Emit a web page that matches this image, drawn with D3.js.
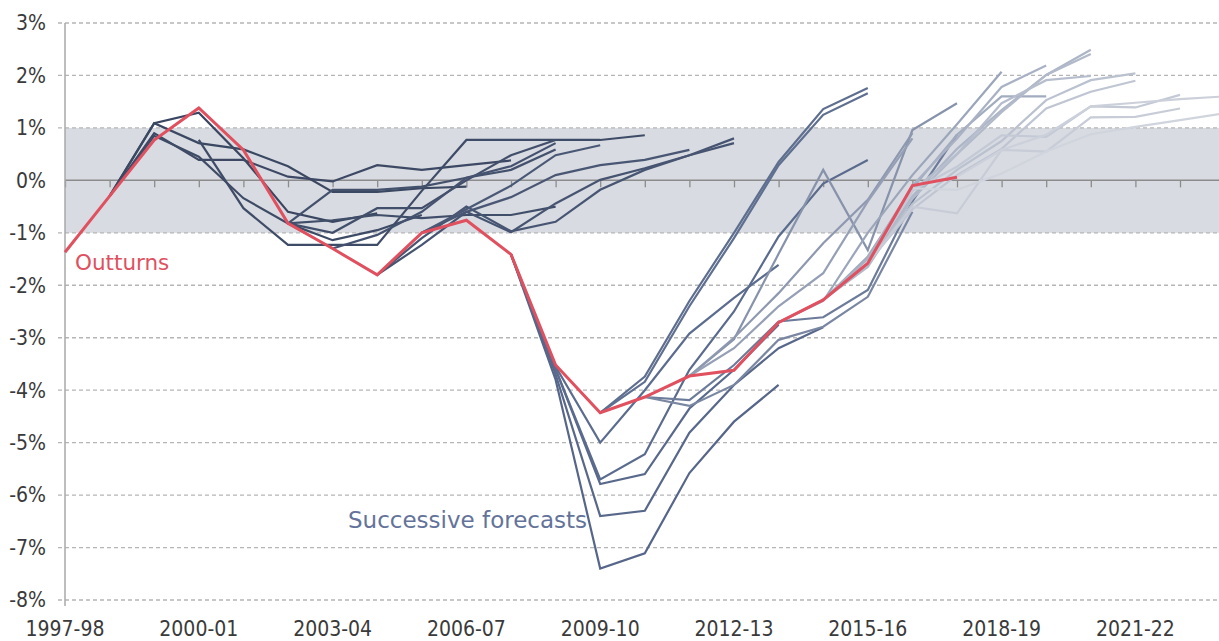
<!DOCTYPE html>
<html>
  <head>
    <meta charset="UTF-8">
    <script src="https://d3js.org/d3.v7.min.js"></script>
    <style>
      body { margin: 0; background: #fff; }
      text { font-family: "DejaVu Sans Condensed", "DejaVu Sans", sans-serif; }
      text.note { font-family: "DejaVu Sans", sans-serif; }
    </style>
  </head>
  <body>
    <svg class="chart"></svg>
    <script type="text/javascript">

      var width = 1219,
          height = 641;

      var years = ["1997-98", "1998-99", "1999-00", "2000-01", "2001-02", "2002-03", "2003-04",
                   "2004-05", "2005-06", "2006-07", "2007-08", "2008-09", "2009-10", "2010-11",
                   "2011-12", "2012-13", "2013-14", "2014-15", "2015-16", "2016-17", "2017-18",
                   "2018-19", "2019-20", "2020-21", "2021-22", "2022-23", "2023-24"];

      var yearLabels = ["1997-98", "2000-01", "2003-04", "2006-07", "2009-10",
                        "2012-13", "2015-16", "2018-19", "2021-22"];

      var yTicks = [-8, -7, -6, -5, -4, -3, -2, -1, 0, 1, 2, 3];

      // outturns, 1997-98 to 2017-18
      var outturns = [-1.37, -0.3, 0.77, 1.38, 0.58, -0.82, -1.3, -1.8, -1.0, -0.76, -1.41,
                      -3.52, -4.43, -4.13, -3.73, -3.62, -2.71, -2.28, -1.58, -0.1, 0.06];

      // successive forecasts: [first year, values], oldest first
      var forecasts = [
        ["1998-99", [-0.3, 1.09, 1.29, 0.42, -0.6, -0.79, -0.63]],
        ["1998-99", [-0.3, 1.09, 0.71, 0.59, 0.27, -0.22, -0.22, -0.15, -0.12]],
        ["1998-99", [-0.3, 0.9, 0.39, 0.39, 0.07, -0.02, 0.29, 0.2, 0.29, 0.38]],
        ["1998-99", [-0.3, 0.85, 0.45, -0.34, -0.82, -1.14, -0.95, -0.66]],
        ["2000-01", [0.77, -0.53, -1.23, -1.23, -1.23, -0.2, 0.77, 0.77, 0.77, 0.77, 0.86]],
        ["2002-03", [-0.82, -0.76, -0.66, -0.72, -0.66, -0.66, -0.5]],
        ["2002-03", [-0.82, -1.0, -0.53, -0.53, 0.0, 0.48, 0.77]],
        ["2002-03", [-0.82, -0.18, -0.18, -0.12, 0.05, 0.2, 0.59]],
        ["2003-04", [-1.3, -1.04, -0.6, 0.05, 0.27, 0.71]],
        ["2004-05", [-1.8, -1.23, -0.6, -0.99, -0.44, 0.01, 0.23, 0.48, 0.71]],
        ["2004-05", [-1.8, -1.1, -0.5, -0.97, -0.79, -0.18, 0.2, 0.48, 0.8]],
        ["2005-06", [-1.0, -0.6, -0.32, 0.1, 0.29, 0.39, 0.58]],
        ["2005-06", [-1.0, -0.55, -0.1, 0.48, 0.67]],
        ["2007-08", [-1.41, -3.8, -7.4, -7.11, -5.58, -4.6, -3.9]],
        ["2007-08", [-1.41, -3.7, -6.4, -6.3, -4.81, -3.9, -3.2, -2.8]],
        ["2007-08", [-1.41, -3.6, -5.79, -5.6, -4.35, -3.61, -2.75]],
        ["2007-08", [-1.41, -3.6, -5.7, -5.22, -3.61, -2.5, -1.07, -0.06, 0.39]],
        ["2007-08", [-1.41, -3.55, -5.0, -4.0, -2.92, -2.24, -1.61]],
        ["2009-10", [-4.43, -3.74, -2.3, -1.0, 0.35, 1.36, 1.76]],
        ["2009-10", [-4.43, -3.84, -2.4, -1.1, 0.29, 1.25, 1.66]],
        ["2010-11", [-4.13, -4.19, -3.52, -2.69, -2.61, -2.09, -0.4, 0.87]],
        ["2010-11", [-4.13, -4.3, -3.9, -3.04, -2.79, -2.22, -0.6]],
        ["2011-12", [-3.73, -3.03, -1.4, 0.2, -1.33, 0.96, 1.47]],
        ["2011-12", [-3.73, -3.0, -2.15, -1.2, -0.37, 0.9]],
        ["2011-12", [-3.73, -3.2, -2.4, -1.77, -0.4, 0.8]],
        ["2013-14", [-2.71, -2.3, -1.0, 0.1, 1.07, 2.07]],
        ["2013-14", [-2.71, -2.28, -1.45, -0.15, 0.87, 1.6, 1.6]],
        ["2014-15", [-2.28, -1.5, -0.1, 0.8, 1.78, 2.19]],
        ["2014-15", [-2.28, -1.6, -0.3, 0.6, 1.34, 2.01, 2.49]],
        ["2014-15", [-2.28, -1.65, -0.35, 0.5, 1.3, 2.01, 2.41]],
        ["2015-16", [-1.58, -0.2, 0.5, 1.47, 1.91, 1.99]],
        ["2015-16", [-1.58, -0.45, 0.2, 0.75, 1.53, 1.91, 2.04]],
        ["2015-16", [-1.58, -0.55, 0.1, 0.6, 1.37, 1.69, 1.9]],
        ["2015-16", [-1.58, -0.2, 0.26, 0.86, 0.83, 1.41, 1.39, 1.63]],
        ["2015-16", [-1.58, -0.5, -0.63, 0.58, 0.55, 1.2, 1.21, 1.37]],
        ["2016-17", [-0.1, 0.07, 0.58, 0.87, 1.41, 1.48, 1.55, 1.6]],
        ["2016-17", [-0.15, -0.18, 0.13, 0.55, 0.88, 1.02, 1.15, 1.28]]
      ];

      var chart = d3.select(".chart")
          .attr("width", width)
          .attr("height", height);

      var x = d3.scalePoint().domain(years).range([65, 1224.6]);
      var y = d3.scaleLinear().domain([-8, 3]).range([600, 23]);

      // older forecasts dark, newer ones fade out
      var shade = d3.scaleLinear()
          .domain([0, 12, 13, 19, 22, 27, 36])
          .range(["#3a4660", "#4a5876", "#56668a", "#5f6f90", "#8793ab", "#a9b2c4", "#d0d4dd"]);

      // +/-1% band
      chart.append("rect")
          .attr("x", x(years[0]))
          .attr("y", y(1))
          .attr("width", width - x(years[0]))
          .attr("height", y(-1) - y(1))
          .attr("fill", "#d8dbe1");

      chart.append("g")
          .selectAll("line")
          .data(yTicks.filter(function(d) { return d !== 0; }))
          .enter().append("line")
          .attr("x1", 58).attr("x2", width)
          .attr("y1", function(d) { return y(d); })
          .attr("y2", function(d) { return y(d); })
          .attr("stroke", "#b5b5b5")
          .attr("stroke-width", 1.3)
          .attr("stroke-dasharray", "4,3");

      var xAxis = chart.append("g")
          .attr("transform", "translate(0," + y(0) + ")")
          .call(d3.axisBottom(x).tickSize(7).tickFormat(""));
      xAxis.select(".domain").remove();
      xAxis.selectAll("line").attr("stroke", "#8c8c8c").attr("stroke-width", 1.3);

      chart.append("line")
          .attr("x1", x(years[0])).attr("x2", width)
          .attr("y1", y(0)).attr("y2", y(0))
          .attr("stroke", "#8c8c8c").attr("stroke-width", 1.5);

      chart.append("line")
          .attr("x1", x(years[0])).attr("x2", x(years[0]))
          .attr("y1", y(3)).attr("y2", y(-8) + 6)
          .attr("stroke", "#a8a8a8").attr("stroke-width", 1.5);

      chart.append("g")
          .selectAll("text")
          .data(yTicks)
          .enter().append("text")
          .attr("x", 46)
          .attr("y", function(d) { return y(d); })
          .attr("dy", "0.35em")
          .attr("text-anchor", "end")
          .attr("font-size", 21)
          .attr("fill", "#3a3a3a")
          .text(function(d) { return d + "%"; });

      chart.append("g")
          .selectAll("text")
          .data(yearLabels)
          .enter().append("text")
          .attr("x", function(d) { return x(d); })
          .attr("y", 636)
          .attr("text-anchor", "middle")
          .attr("font-size", 21)
          .attr("fill", "#3a3a3a")
          .text(function(d) { return d; });

      var line = d3.line()
          .x(function(d) { return x(d[0]); })
          .y(function(d) { return y(d[1]); });

      function points(start, values) {
        var i0 = years.indexOf(start);
        return values.map(function(v, i) { return [years[i0 + i], v]; });
      }

      chart.append("g")
          .selectAll("path")
          .data(forecasts)
          .enter().append("path")
          .attr("d", function(d) { return line(points(d[0], d[1])); })
          .attr("fill", "none")
          .attr("stroke", function(d, i) { return shade(i); })
          .attr("stroke-width", 2.2);

      chart.append("path")
          .attr("d", line(points(years[0], outturns)))
          .attr("fill", "none")
          .attr("stroke", "#e0505f")
          .attr("stroke-width", 3);

      chart.append("text")
          .attr("class", "note")
          .attr("x", 75).attr("y", 270)
          .attr("font-size", 21.5)
          .attr("fill", "#e0505f")
          .text("Outturns");

      chart.append("text")
          .attr("class", "note")
          .attr("x", 348).attr("y", 528)
          .attr("font-size", 23)
          .attr("fill", "#63739a")
          .text("Successive forecasts");

    </script>
  </body>
</html>
